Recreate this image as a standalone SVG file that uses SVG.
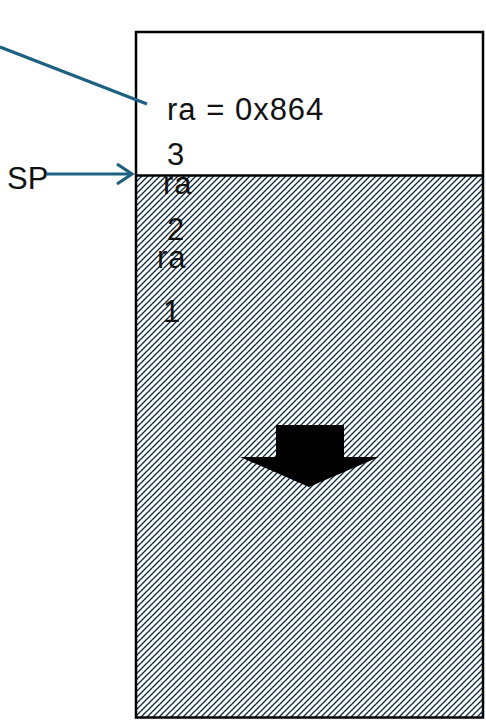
<svg xmlns="http://www.w3.org/2000/svg" width="486" height="721" viewBox="0 0 486 721">
  <style>
    .lbl { font-family: "Liberation Sans", Arial, sans-serif; font-size: 31px; fill: #111; }
    .cell { letter-spacing: 1px; }
    .frame { fill: none; stroke: #000; stroke-width: 2.5; }
    .conn { fill: none; stroke: #1d6182; stroke-width: 3.2; }
  </style>
  <defs>
    <!-- upward diagonal hatch for the used part of the stack -->
    <pattern id="hatch" patternUnits="userSpaceOnUse" width="6" height="6">
      <rect width="6" height="6" fill="#fff"/>
      <path d="M-1,1 L1,-1 M0,6 L6,0 M5,7 L7,5" stroke="#0b2942" stroke-width="1.3"/>
    </pattern>
  </defs>

  <!-- stack region -->
  <g id="stack">
    <rect x="136" y="32" width="347" height="143.5" fill="#fff"/>
    <rect x="136" y="175.5" width="347" height="542" fill="url(#hatch)"/>
    <rect x="136" y="32" width="347" height="685.5" class="frame"/>
    <line x1="136" y1="175.5" x2="483" y2="175.5" stroke="#000" stroke-width="2.5"/>
  </g>

  <!-- stack contents -->
  <g id="contents">
    <text class="lbl cell" x="167" y="120">ra = 0x864</text>
    <text class="lbl cell" x="167" y="165">3</text>
    <text class="lbl cell" x="163" y="194">ra</text>
    <text class="lbl cell" x="167" y="240">2</text>
    <text class="lbl cell" x="157" y="268">ra</text>
    <text class="lbl cell" x="163" y="322">1</text>
  </g>

  <!-- growth direction -->
  <g id="grow-arrow">
    <polygon points="276,425 344,425 344,457 379,457 309,487 240,457 276,457" fill="#000"/>
  </g>

  <g id="sp">
    <text class="lbl" x="7" y="189">SP</text>
  </g>

  <g id="connectors">
    <line class="conn" x1="0" y1="47" x2="147" y2="104"/>
    <line class="conn" x1="47" y1="174" x2="132" y2="174"/>
    <polyline class="conn" points="117,164 132,174 117,184"/>
  </g>
</svg>
